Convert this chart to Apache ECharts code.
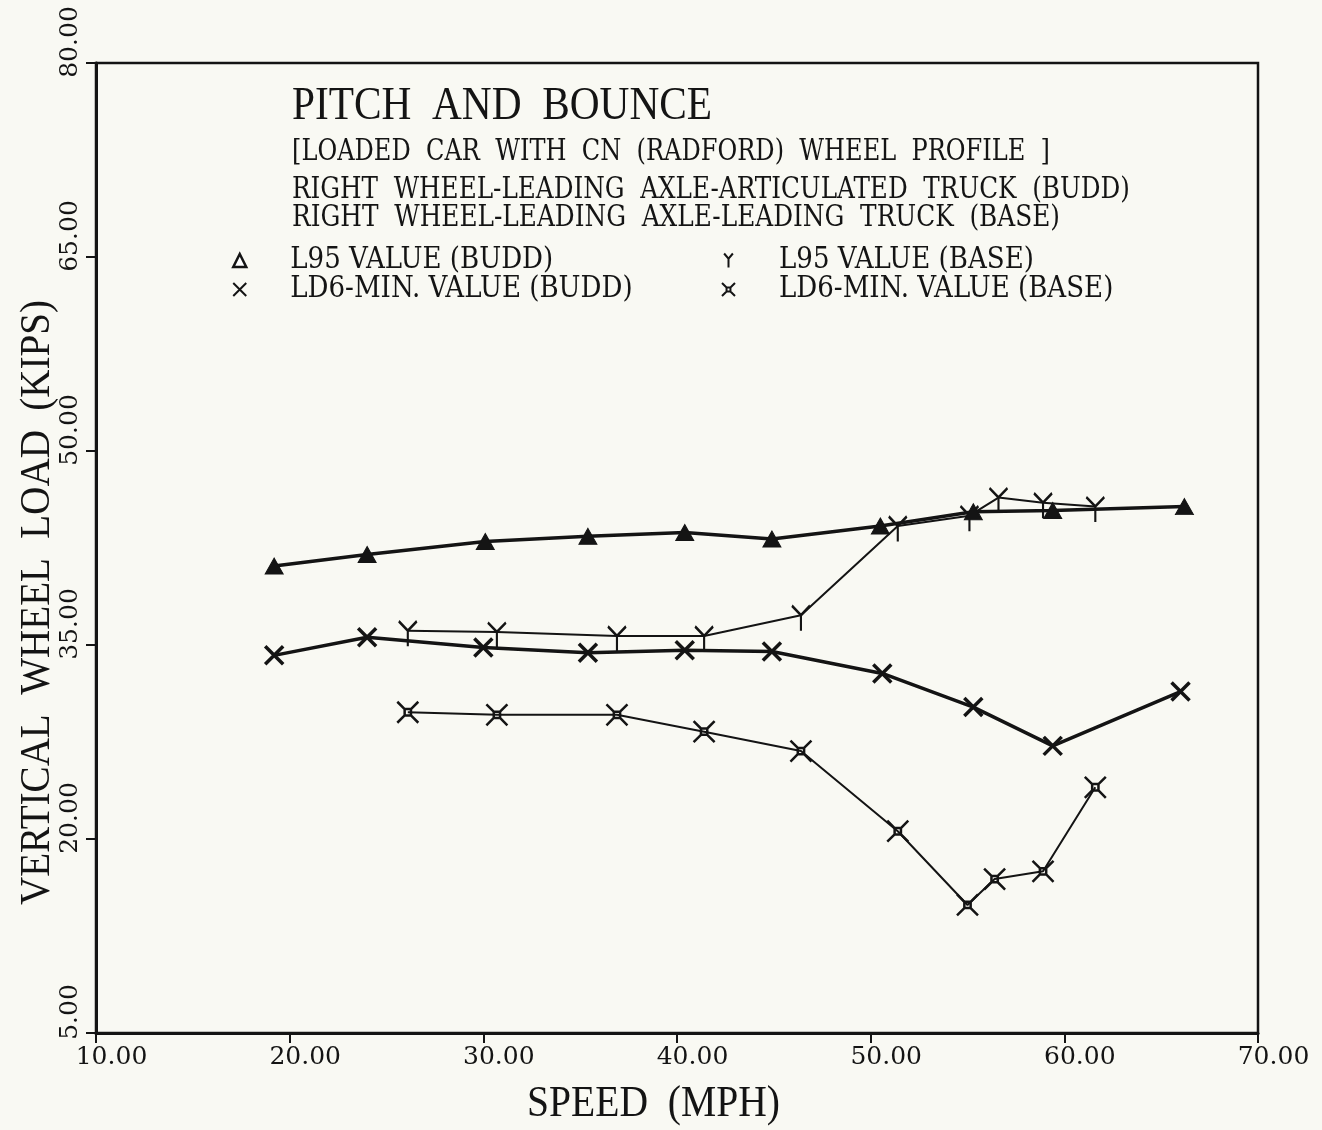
<!DOCTYPE html>
<html>
<head>
<meta charset="utf-8">
<script src="https://cdn.jsdelivr.net/npm/echarts@6/dist/echarts.min.js"></script>
<style>
html,body{margin:0;padding:0;background:#f9f9f3;}
#chart{width:1322px;height:1130px;}
</style>
</head>
<body>
<div id="chart"></div>
<script>
// ---- data ----
const l95BuddSpeed = [19.2, 24.0, 30.1, 35.4, 40.4, 44.9, 50.5, 55.3, 59.4, 66.2];
const l95BuddLoad  = [41.1, 42.0, 43.0, 43.4, 43.7, 43.2, 44.2, 45.3, 45.4, 45.7];
const l95BaseSpeed = [26.1, 30.7, 36.9, 41.4, 46.4, 51.4, 55.1, 56.6, 58.9, 61.6];
const l95BaseLoad  = [36.1, 36.0, 35.7, 35.7, 37.3, 44.2, 45.0, 46.4, 46.0, 45.7];
const ld6BuddSpeed = [19.2, 24.0, 30.0, 35.4, 40.4, 44.9, 50.6, 55.3, 59.4, 66.0];
const ld6BuddLoad  = [34.2, 35.6, 34.8, 34.4, 34.6, 34.5, 32.8, 30.2, 27.2, 31.4];
const ld6BaseSpeed = [26.1, 30.7, 36.9, 41.4, 46.4, 51.4, 55.0, 56.4, 58.9, 61.6];
const ld6BaseLoad  = [29.8, 29.6, 29.6, 28.3, 26.8, 20.6, 14.9, 16.9, 17.5, 24.0];
const xTicks = [10, 20, 30, 40, 50, 60, 70];
const yTicks = [5, 20, 35, 50, 65, 80];
const seriesNames = ['L95 VALUE (BUDD)', 'LD6-MIN. VALUE (BUDD)', 'L95 VALUE (BASE)', 'LD6-MIN. VALUE (BASE)'];
const titleLines = [
  'PITCH  AND  BOUNCE',
  '[LOADED  CAR  WITH  CN  (RADFORD)  WHEEL  PROFILE  ]',
  'RIGHT  WHEEL-LEADING  AXLE-ARTICULATED  TRUCK  (BUDD)',
  'RIGHT  WHEEL-LEADING  AXLE-LEADING  TRUCK  (BASE)'
];
const xAxisTitle = 'SPEED  (MPH)';
const yAxisTitle = 'VERTICAL  WHEEL  LOAD  (KIPS)';

// ---- styling ----
const INK = '#141414';
const BG = '#f9f9f3';
const pair = (xs, ys) => xs.map((x, i) => [x, ys[i]]);
const SYM_X = 'path://M0,0L10,10M10,0L0,10';
const SYM_Y = 'path://M0,0L5,6L10,0M5,6L5,16';
const SYM_SQX = 'path://M0,0L3.5,3.5M10,0L6.5,3.5M0,10L3.5,6.5M10,10L6.5,6.5M3.5,3.5L6.5,3.5L6.5,6.5L3.5,6.5Z';

const canvas = document.createElement('canvas');
const ctx = canvas.getContext('2d');
function fitScale(text, font, width) {
  ctx.font = font;
  return width / ctx.measureText(text).width;
}
const CONDENSED = '"DejaVu Serif Condensed", "DejaVu Serif", serif';
const SERIF = '"Liberation Serif", "Times New Roman", serif';

function headText(text, x, y, size, family, width) {
  const font = 'normal ' + size + 'px ' + family;
  const sx = fitScale(text, font, width);
  return {
    type: 'text', x: x, y: y, scaleX: sx, silent: true,
    style: { text: text, font: font, fill: INK, textAlign: 'left', textVerticalAlign: 'middle' }
  };
}

const graphics = [
  headText(titleLines[0], 292, 107, 46, SERIF, 420),
  headText(titleLines[1], 292, 152, 30, CONDENSED, 758),
  headText(titleLines[2], 292, 190, 30, CONDENSED, 838),
  headText(titleLines[3], 292, 218, 30, CONDENSED, 768),
  headText(xAxisTitle, 527, 1104, 44, SERIF, 253),
];
(function () {
  const font = 'normal 42px ' + SERIF;
  const sx = fitScale(yAxisTitle, font, 605);
  graphics.push({
    type: 'text', x: 38, y: 905, rotation: Math.PI / 2, scaleX: sx, silent: true,
    style: { text: yAxisTitle, font: font, fill: INK, textAlign: 'left', textVerticalAlign: 'middle' }
  });
})();

const legendText = { color: INK, fontFamily: CONDENSED, fontSize: 29, lineHeight: 29, padding: [0, 0, 0, 39] };
const iconStyle = { color: 'transparent', borderColor: INK, borderWidth: 2 };

const chart = echarts.init(document.getElementById('chart'));
chart.setOption({
  backgroundColor: BG,
  animation: false,
  grid: {
    left: 96, right: 64, top: 63, bottom: 97, show: true,
    borderColor: INK, borderWidth: 2.5, backgroundColor: 'transparent',
    outerBoundsMode: 'none', containLabel: false
  },
  legend: [
    {
      orient: 'vertical', left: 227, top: 241, itemGap: 0, itemWidth: 13, itemHeight: 13,
      textStyle: legendText, selectedMode: false,
      data: [
        { name: seriesNames[0], icon: 'triangle', itemStyle: { color: '#fff', borderColor: INK, borderWidth: 2.5 } },
        { name: seriesNames[1], icon: SYM_X, itemStyle: iconStyle }
      ]
    },
    {
      orient: 'vertical', left: 716, top: 241, itemGap: 0, itemWidth: 13, itemHeight: 14,
      textStyle: legendText, selectedMode: false,
      data: [
        { name: seriesNames[2], icon: SYM_Y, itemStyle: iconStyle },
        { name: seriesNames[3], icon: SYM_SQX, itemStyle: iconStyle }
      ]
    }
  ],
  xAxis: {
    type: 'value', min: xTicks[0], max: xTicks[xTicks.length - 1], interval: 10,
    axisLine: { show: true, lineStyle: { color: INK, width: 3 } },
    axisTick: { show: true, inside: false, length: 10, lineStyle: { color: INK, width: 2 } },
    splitLine: { show: false },
    axisLabel: {
      color: INK, fontFamily: '"DejaVu Serif", serif', fontSize: 25, margin: 12,
      padding: [0, 0, 0, 31], formatter: v => v.toFixed(2)
    }
  },
  yAxis: {
    type: 'value', min: yTicks[0], max: yTicks[yTicks.length - 1],
    axisLine: { show: true, lineStyle: { color: INK, width: 3 } },
    axisTick: { show: true, inside: false, length: 10, lineStyle: { color: INK, width: 2 }, customValues: yTicks },
    splitLine: { show: false },
    axisLabel: {
      color: INK, fontFamily: '"DejaVu Serif", serif', fontSize: 25, margin: 26,
      rotate: 90, align: 'center', verticalAlign: 'middle', padding: [0, 0, 0, 42],
      customValues: yTicks, formatter: v => Number(v).toFixed(2)
    }
  },
  graphic: graphics,
  series: [
    {
      name: seriesNames[0], type: 'line', data: pair(l95BuddSpeed, l95BuddLoad),
      symbol: 'triangle', symbolSize: [18, 16],
      itemStyle: { color: INK, borderColor: INK, borderWidth: 1 },
      lineStyle: { color: INK, width: 3.5 }, z: 3
    },
    {
      name: seriesNames[1], type: 'line', data: pair(ld6BuddSpeed, ld6BuddLoad),
      symbol: SYM_X, symbolSize: 18,
      itemStyle: { color: 'transparent', borderColor: INK, borderWidth: 3.5 },
      lineStyle: { color: INK, width: 3.5 }, z: 3
    },
    {
      name: seriesNames[2], type: 'line', data: pair(l95BaseSpeed, l95BaseLoad),
      symbol: SYM_Y, symbolSize: [18, 25], symbolOffset: [0, 3],
      itemStyle: { color: 'transparent', borderColor: INK, borderWidth: 2.5 },
      lineStyle: { color: INK, width: 2 }, z: 2
    },
    {
      name: seriesNames[3], type: 'line', data: pair(ld6BaseSpeed, ld6BaseLoad),
      symbol: SYM_SQX, symbolSize: 21,
      itemStyle: { color: 'transparent', borderColor: INK, borderWidth: 2.5 },
      lineStyle: { color: INK, width: 2 }, z: 2
    }
  ]
});
</script>
</body>
</html>
